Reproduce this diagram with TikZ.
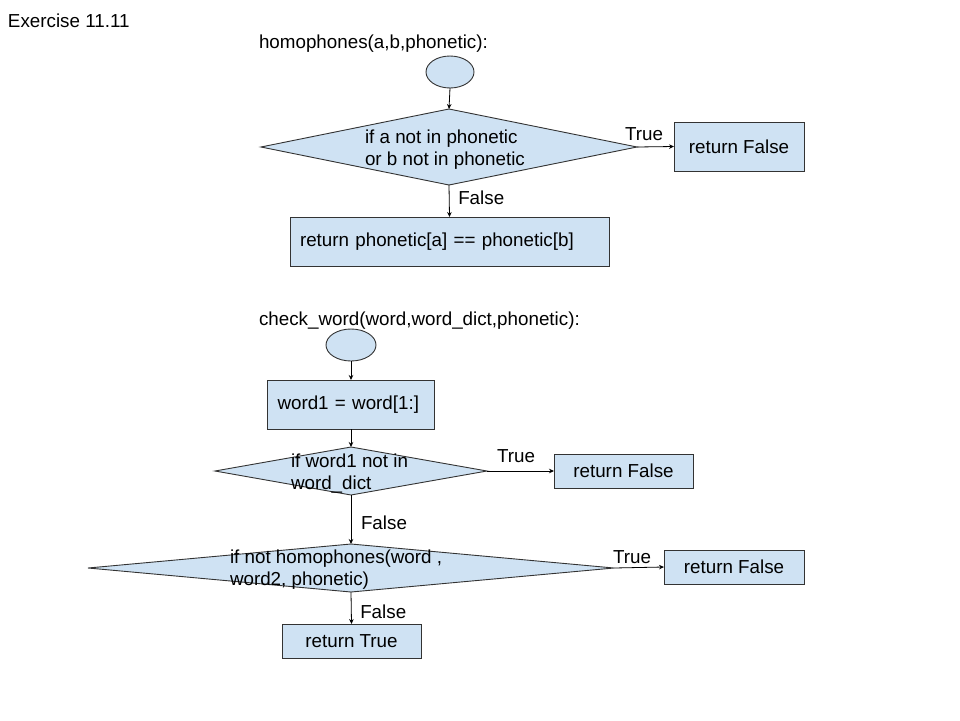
\documentclass[tikz,border=0pt]{standalone}
\usepackage{fontspec}
\setmainfont{Liberation Sans}
\usetikzlibrary{shapes.geometric,arrows.meta}
\definecolor{boxfill}{HTML}{CFE2F3}
\definecolor{boxline}{HTML}{333333}
\tikzset{
  txt/.style={font=\fontsize{18.8}{22}\selectfont, inner sep=0pt, outer sep=0pt},
  shp/.style={draw=boxline, fill=boxfill, line width=0.9pt, inner sep=0pt, outer sep=0pt},
  ellnode/.style={shp, ellipse, minimum width=#1, minimum height=32pt},
  dia/.style 2 args={shp, diamond, minimum width=#1, minimum height=#2, aspect=5},
  boxc/.style 2 args={shp, rectangle, minimum width=#1, minimum height=#2, font=\fontsize{18.8}{22}\selectfont},
  boxl/.style 2 args={shp, rectangle, text width=#1, inner xsep=10pt, minimum height=#2, align=left, font=\fontsize{18.8}{22}\selectfont},
  arr/.style={draw=black, line width=0.8pt, -{Stealth[length=5pt,width=4.5pt]}},
  lbl/.style={txt}
}
\begin{document}
\begin{tikzpicture}[x=1pt,y=-1pt]
\useasboundingbox (0,0) rectangle (960,720);
\fill[white] (0,0) rectangle (960,720);

\node[txt, anchor=west] (title) at (8,21) {Exercise 11.11};

% ---- homophones ----
\node[txt, anchor=west] (h1) at (259,44) {homophones(a,b,phonetic):};
\node[ellnode=48pt] (e1) at (450,72) {};
\node[dia={376pt}{76pt}] (d1) at (449,147) {};
\node[txt, anchor=west, align=left] (d1t) at (365,149.5) {if a not in phonetic\\or b not in phonetic};
\node[boxc={130pt}{49pt}] (rf1) at (739,146.5) {return False};
\node[boxl={299pt}{49pt}] (rp) at (449.5,241.5) {return phonetic[a] == phonetic[b]};

\draw[arr] (e1.south) -- (d1.north);
\draw[arr] (d1.east) -- (rf1.west) node[lbl, pos=0, anchor=south west, xshift=-12pt, yshift=6pt] {True};
\draw[arr] (d1.south) -- (rp.north) node[lbl, pos=0.5, anchor=west, xshift=9pt, yshift=3pt] {False};

% ---- check_word ----
\node[txt, anchor=west] (h2) at (259,321) {check\_word(word,word\_dict,phonetic):};
\node[ellnode=50pt] (e2) at (351,345) {};
\node[boxl={147pt}{49pt}] (w1) at (351,404.5) {word1 = word[1:]};
\node[dia={272pt}{48pt}] (d2) at (351,471) {};
\node[txt, anchor=west, align=left] (d2t) at (291,474) {if word1 not in\\word\_dict};
\node[boxc={139pt}{34pt}] (rf2) at (623.5,471) {return False};
\node[dia={526pt}{48pt}] (d3) at (351,568) {};
\node[txt, anchor=west, align=left] (d3t) at (230,570) {if not homophones(word ,\\word2, phonetic)};
\node[boxc={140pt}{34pt}] (rf3) at (734,567) {return False};
\node[boxc={139pt}{34pt}] (rt) at (351.5,641) {return True};

\draw[arr] (e2.south) -- (w1.north);
\draw[arr] (w1.south) -- (d2.north);
\draw[arr] (d2.east) -- (rf2.west) node[lbl, pos=0, anchor=south west, xshift=10pt, yshift=8pt] {True};
\draw[arr] (d2.south) -- (d3.north) node[lbl, pos=0.5, anchor=west, xshift=10pt, yshift=-3.5pt] {False};
\draw[arr] (d3.east) -- (rf3.west) node[lbl, pos=0, anchor=south west, xshift=-1pt, yshift=4pt] {True};
\draw[arr] (d3.south) -- (rt.north) node[lbl, pos=0.5, anchor=west, xshift=9pt, yshift=-4pt] {False};
\end{tikzpicture}
\end{document}
